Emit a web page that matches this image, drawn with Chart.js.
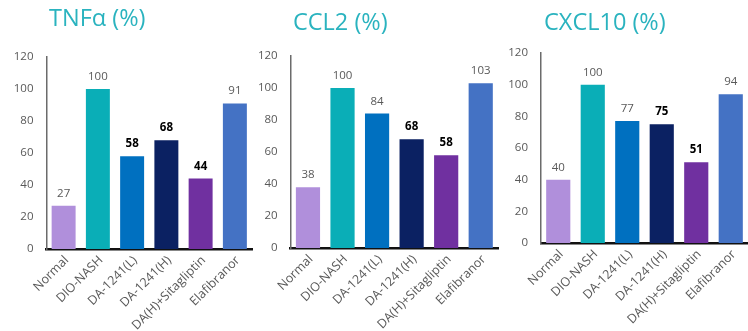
<!DOCTYPE html>
<html>
<head>
<meta charset="utf-8">
<script src="https://cdn.jsdelivr.net/npm/chart.js@4.4.1/dist/chart.umd.min.js"></script>
<style>
  html, body { margin: 0; padding: 0; background: #ffffff; width: 748px; height: 331px; overflow: hidden; }
  canvas { position: absolute; top: 0; }
</style>
</head>
<body>
<canvas id="c1" width="262" height="331" style="left:0px"></canvas>
<canvas id="c2" width="256" height="331" style="left:250px"></canvas>
<canvas id="c3" width="258" height="331" style="left:500px"></canvas>
<script>
// Groups shown on every panel
const categories = ['Normal', 'DIO-NASH', 'DA-1241(L)', 'DA-1241(H)', 'DA(H)+Sitagliptin', 'Elafibranor'];

// Relative expression (%) per marker
const tnfaValues   = [27, 100, 58, 68, 44, 91];
const ccl2Values   = [38, 100, 84, 68, 58, 103];
const cxcl10Values = [40, 100, 77, 75, 51, 94];

// Value labels written in bold
const tnfaBold   = [false, false, true, true, true, false];
const ccl2Bold   = [false, false, false, true, true, false];
const cxcl10Bold = [false, false, false, true, true, false];

const yTicks = [0, 20, 40, 60, 80, 100, 120];
const panelTitles = ['TNFα (%)', 'CCL2 (%)', 'CXCL10 (%)'];

// Bar colours, one per group
const barColors = ['#b08fdb', '#0aaeb7', '#0070c0', '#0b2162', '#7030a0', '#4472c4'];

const FONT = '"Open Sans", "Noto Sans", sans-serif';
Chart.defaults.font.family = FONT;

// Panel geometry (plot area edges in canvas pixels)
const panels = [
  { id: 'c1', title: panelTitles[0], values: tnfaValues,   bold: tnfaBold,   left: 46.5, top: 57, bottom: 249, padRight: 10, titleDx: 2.5, titleY: 26 },
  { id: 'c2', title: panelTitles[1], values: ccl2Values,   bold: ccl2Bold,   left: 40.7, top: 56, bottom: 248, padRight: 8,  titleDx: 2.3, titleY: 29.5 },
  { id: 'c3', title: panelTitles[2], values: cxcl10Values, bold: cxcl10Bold, left: 41,   top: 53, bottom: 243, padRight: 10, titleDx: 3,   titleY: 29.5 }
];

// Draws the value above each bar and the panel heading
const barLabels = {
  id: 'barLabels',
  afterDatasetsDraw(chart, args, opts) {
    const ctx = chart.ctx;
    const meta = chart.getDatasetMeta(0);
    const ds = chart.data.datasets[0];
    ctx.save();
    ctx.textAlign = 'center';
    ctx.textBaseline = 'alphabetic';
    meta.data.forEach((bar, i) => {
      const isBold = opts.bold[i];
      ctx.font = (isBold ? 'bold ' : '') + '11.5px ' + FONT;
      ctx.fillStyle = isBold ? '#000000' : '#595959';
      ctx.fillText(String(ds.data[i]), bar.x, bar.y - 9);
    });
    ctx.font = '23.5px ' + FONT;
    ctx.fillStyle = '#2ab3bf';
    ctx.textAlign = 'left';
    ctx.fillText(opts.title, chart.chartArea.left + opts.titleDx, opts.titleY);
    ctx.restore();
  }
};

panels.forEach(p => {
  const canvas = document.getElementById(p.id);
  new Chart(canvas, {
    type: 'bar',
    data: {
      labels: categories,
      datasets: [{
        data: p.values,
        backgroundColor: barColors,
        borderWidth: 0,
        barPercentage: 0.7,
        categoryPercentage: 1.0
      }]
    },
    options: {
      responsive: false,
      animation: false,
      devicePixelRatio: 1,
      layout: { padding: { top: p.top, right: p.padRight, left: 0, bottom: 0 } },
      plugins: {
        legend: { display: false },
        tooltip: { enabled: false },
        title: { display: false },
        barLabels: { bold: p.bold, title: p.title, titleDx: p.titleDx, titleY: p.titleY }
      },
      scales: {
        x: {
          grid: { display: false, drawTicks: false },
          border: { display: true, color: '#111111', width: 2.5 },
          ticks: {
            autoSkip: false,
            maxRotation: 45,
            minRotation: 45,
            padding: 4,
            labelOffset: 3,
            color: '#595959',
            font: { size: 12.5, family: FONT }
          },
          afterFit(scale) { scale.height = 331 - p.bottom; }
        },
        y: {
          min: 0,
          max: 120,
          grid: { display: false, drawTicks: false },
          border: { display: true, color: '#6b6b6b', width: 1.5 },
          ticks: {
            padding: 13,
            color: '#595959',
            font: { size: 11.5, family: FONT }
          },
          afterBuildTicks(scale) { scale.ticks = yTicks.map(v => ({ value: v })); },
          afterFit(scale) { scale.width = p.left; }
        }
      }
    },
    plugins: [barLabels]
  });
});
</script>
</body>
</html>
